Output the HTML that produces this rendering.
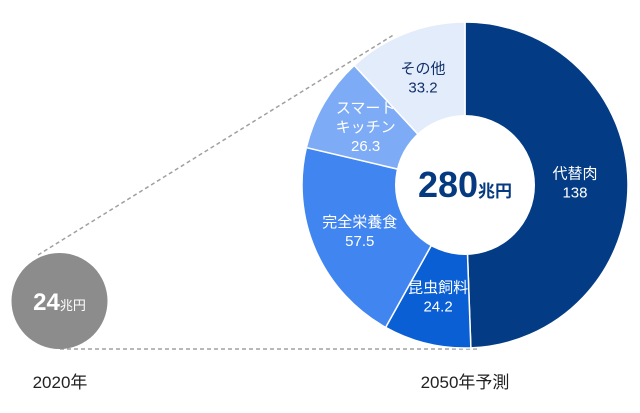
<!DOCTYPE html>
<html><head><meta charset="utf-8"><style>
body{margin:0;background:#fff;}
svg text{font-family:"Liberation Sans","Noto Sans CJK JP",sans-serif;}
</style></head><body>
<svg width="640" height="408" viewBox="0 0 640 408">
<line x1="38" y1="255" x2="395" y2="34" stroke="#a0a0a0" stroke-width="1.5" stroke-dasharray="4 3"/>
<line x1="60" y1="349" x2="478" y2="349" stroke="#a0a0a0" stroke-width="1.5" stroke-dasharray="4 3"/>
<circle cx="59.5" cy="301" r="48" fill="#8c8c8c"/>
<text x="59.5" y="310" text-anchor="middle" fill="#fff"><tspan font-size="24" font-weight="bold">24</tspan><tspan font-size="13">兆円</tspan></text>
<text x="60" y="388" text-anchor="middle" font-size="17" fill="#222">2020年</text>
<text x="465" y="388" text-anchor="middle" font-size="17" fill="#222">2050年予測</text>
<g id="donut"></g>
<circle cx="465" cy="185" r="70" fill="#fff"/>
<text x="465" y="197" text-anchor="middle" fill="#063a80"><tspan font-size="36" font-weight="bold">280</tspan><tspan font-size="17" font-weight="bold">兆円</tspan></text>
</svg>
<script>
const categories=["代替肉","昆虫飼料","完全栄養食","スマートキッチン","その他"];
const labelLines=[["代替肉"],["昆虫飼料"],["完全栄養食"],["スマート","キッチン"],["その他"]];
const values=[138,24.2,57.5,26.3,33.2];
const colors=["#033c84","#0a5fd4","#4185f0","#7eabf5","#e3ecfb"];
const textColors=["#fff","#fff","#fff","#fff","#12306a"];
const cx=465,cy=185,R=163,Rl=115;
const g=document.getElementById('donut');
const ns='http://www.w3.org/2000/svg';
const total=values.reduce((a,b)=>a+b,0);
function pt(a,r){return [cx+r*Math.sin(a),cy-r*Math.cos(a)];}
let a0=0;
values.forEach((v,i)=>{
  const a1=a0+v/total*2*Math.PI;
  const p0=pt(a0,R),p1=pt(a1,R);
  const large=(a1-a0)>Math.PI?1:0;
  const p=document.createElementNS(ns,'path');
  p.setAttribute('d',`M${cx},${cy}L${p0[0]},${p0[1]}A${R},${R} 0 ${large} 1 ${p1[0]},${p1[1]}Z`);
  p.setAttribute('fill',colors[i]);p.setAttribute('stroke','#fff');p.setAttribute('stroke-width','1.5');
  
  
  g.appendChild(p);
  const am=(a0+a1)/2, lp=pt(am,i===0?Rl-5:Rl);
  const lines=labelLines[i].concat([String(v)]);
  const lh=19, y0=lp[1]-(lines.length-1)*lh/2+5;
  lines.forEach((s,k)=>{
    const t=document.createElementNS(ns,'text');
    t.setAttribute('x',lp[0]);t.setAttribute('y',y0+k*lh);
    t.setAttribute('text-anchor','middle');t.setAttribute('font-size','15');
    t.setAttribute('fill',textColors[i]);
    
    
    t.textContent=s;g.appendChild(t);
  });
  a0=a1;
});
</script>
</body></html>
